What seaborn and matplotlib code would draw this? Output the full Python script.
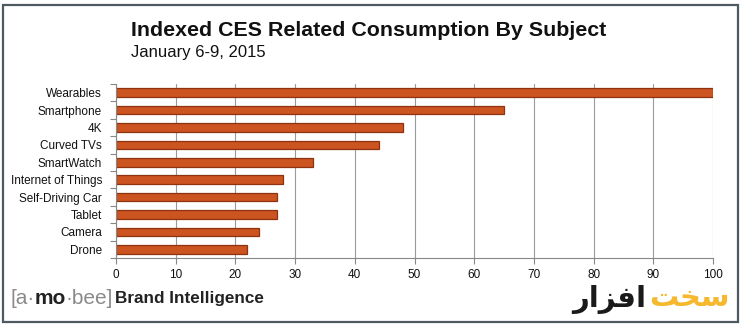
import matplotlib
matplotlib.use("Agg")
import matplotlib.pyplot as plt
import seaborn as sns
import pandas as pd
from matplotlib.patches import Rectangle
from matplotlib.ticker import FixedLocator

subjects = ["Wearables", "Smartphone", "4K", "Curved TVs", "SmartWatch",
            "Internet of Things", "Self-Driving Car", "Tablet", "Camera", "Drone"]
index_values = [100, 65, 48, 44, 33, 28, 27, 27, 24, 22]
x_ticks = [0, 10, 20, 30, 40, 50, 60, 70, 80, 90, 100]

title = "Indexed CES Related Consumption By Subject"
subtitle = "January 6-9, 2015"

df = pd.DataFrame({"subject": subjects, "index": index_values})

sns.set_theme(style="white")
plt.rcParams["font.family"] = ["Liberation Sans", "DejaVu Sans"]

fig = plt.figure(figsize=(7.43, 3.25), dpi=100)
ax = fig.add_axes([116 / 743, 1 - 258 / 325, 597 / 743, 174 / 325])

sns.barplot(data=df, x="index", y="subject", orient="h", ax=ax,
            color="#CC5420", edgecolor="#8E3310", linewidth=0.9,
            width=0.5, saturation=1)

ax.set_xlim(0, 100)
ax.set_ylim(len(subjects) - 0.5, -0.5)
ax.set_xticks(x_ticks)
ax.set_xticklabels([str(t) for t in x_ticks], fontsize=8.5, color="#111111")
ax.set_xlabel("")
ax.set_ylabel("")
ax.tick_params(axis="y", length=0, labelsize=8.5, pad=10, labelcolor="#111111")
ax.yaxis.set_minor_locator(FixedLocator([i - 0.5 for i in range(len(subjects) + 1)]))
ax.tick_params(axis="y", which="minor", length=4, width=0.8, color="#888888", left=True)
ax.tick_params(axis="x", length=4, width=0.8, color="#888888", bottom=True, pad=4)

ax.grid(axis="x", color="#9a9a9a", linewidth=0.8)
ax.set_axisbelow(True)
for side in ["top", "right"]:
    ax.spines[side].set_visible(False)
for side in ["left", "bottom"]:
    ax.spines[side].set_color("#888888")
    ax.spines[side].set_linewidth(0.8)

fig.text(131 / 743, 1 - 30 / 325, title, fontsize=15.4, fontweight="bold",
         color="#111111", va="center", ha="left")
fig.text(131 / 743, 1 - 52 / 325, subtitle, fontsize=12,
         color="#111111", va="center", ha="left")

# brand line
y_brand = 1 - 298 / 325
t1 = fig.text(10 / 743, y_brand, "[a·", fontsize=15, color="#8a8a8a", va="center")
fig.canvas.draw()
r = fig.canvas.get_renderer()
def right_of(t):
    bb = t.get_window_extent(r)
    return bb.x1 / fig.bbox.width
t2 = fig.text(right_of(t1), y_brand, "mo", fontsize=15, fontweight="bold", color="#222222", va="center")
t3 = fig.text(right_of(t2), y_brand, "·bee]", fontsize=15, color="#8a8a8a", va="center")
fig.text(right_of(t3) + 0.003, y_brand, "Brand Intelligence", fontsize=12.3, fontweight="bold",
         color="#222222", va="center")

# watermark
fig.text(646 / 743, 1 - 300 / 325, "\uFEAD\uFE8D\uFEB0\uFED3\uFE8D", fontsize=21, fontweight="bold",
         color="#1a1a1a", va="center", ha="right", family=["DejaVu Sans"])
fig.text(649 / 743, 1 - 298 / 325, "\uFE96\uFEA8\uFEB3", fontsize=21, fontweight="bold",
         color="#F5B82E", va="center", ha="left", family=["DejaVu Sans"])

fig.patches.append(Rectangle((3 / 743, 3 / 325), 735 / 743, 317 / 325, transform=fig.transFigure,
                             fill=False, edgecolor="#4d5a60", linewidth=1.6))

fig.savefig("out.png", dpi=100)
